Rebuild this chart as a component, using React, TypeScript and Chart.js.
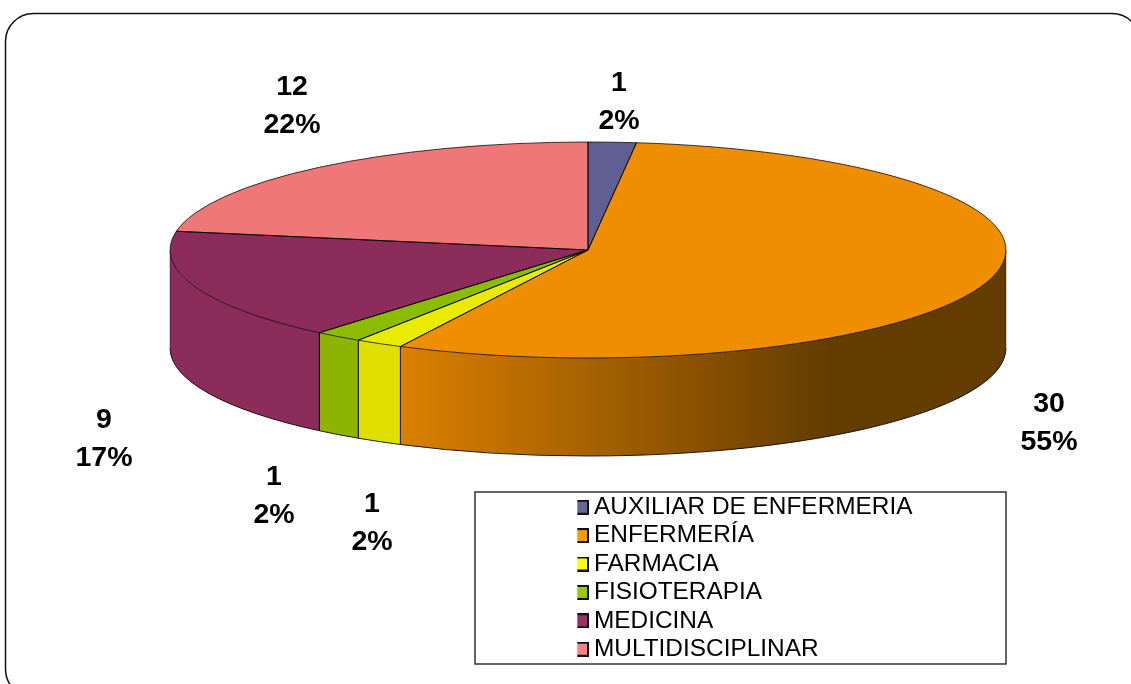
import React, { useEffect, useRef } from "react";
import { Chart, registerables } from "chart.js";

Chart.register(...registerables);

const categories = ["AUXILIAR DE ENFERMERIA", "ENFERMERÍA", "FARMACIA", "FISIOTERAPIA", "MEDICINA", "MULTIDISCIPLINAR"];
const counts = [1, 30, 1, 1, 9, 12];
const percentLabels = ["2%", "55%", "2%", "2%", "17%", "22%"];

const topColors = ["#5F5F96", "#EE8E00", "#EBEB00", "#8CBC00", "#8B2C5B", "#F07777"];
const wallColors = ["#5F5F96", "#DB8000", "#E0E000", "#8CB400", "#8B2C5B", "#F07777"];
const legendColors = ["#666699", "#FF9900", "#FFFF00", "#99CC00", "#993366", "#FF8080"];

const ELLIPSE = { cx: 588, cy: 250, rx: 418, ry: 108, depth: 98 };
const LABEL_ANCHORS = [
  [619, 83],
  [1049, 404],
  [372, 504],
  [274, 477],
  [104, 420],
  [292, 87],
];
const LABEL_LINE_GAP = 38;
const LEGEND_BOX = { left: 475, top: 492, right: 1006, bottom: 664 };
const LEGEND_X = 581.3;
const LEGEND_Y = 493;

function markerCanvas(color: string) {
  const c = document.createElement("canvas");
  c.width = 15;
  c.height = 15;
  const x = c.getContext("2d")!;
  x.fillStyle = color;
  x.fillRect(1, 1, 13, 13);
  x.strokeStyle = "#111";
  x.lineWidth = 2;
  x.strokeRect(1, 1, 13, 13);
  return c;
}

const pie3d = {
  id: "pie3d",
  beforeDraw(chart: any) {
    const { ctx } = chart;
    ctx.save();
    ctx.strokeStyle = "#111";
    ctx.lineWidth = 1.5;
    ctx.beginPath();
    ctx.roundRect(5.5, 13.5, 1134.5, 683.5, 28);
    ctx.stroke();
    ctx.strokeStyle = "#333";
    ctx.lineWidth = 1.5;
    ctx.strokeRect(LEGEND_BOX.left, LEGEND_BOX.top, LEGEND_BOX.right - LEGEND_BOX.left, LEGEND_BOX.bottom - LEGEND_BOX.top);
    ctx.restore();
  },
  afterLayout(chart: any) {
    const l = chart.legend;
    const width = LEGEND_BOX.right - LEGEND_X;
    l.left = LEGEND_X - l.options.labels.padding;
    l.right = l.left + width;
    l.top = LEGEND_Y - l.options.labels.padding + 2;
    l.bottom = 2000;
    l.width = width;
    l.height = l.bottom - l.top;
  },
  beforeDatasetsDraw(chart: any) {
    const { ctx } = chart;
    const arcs = chart.getDatasetMeta(0).data;
    const { cx, cy, rx, ry, depth } = ELLIPSE;
    const px = (a: number) => cx + rx * Math.cos(a);
    const py = (a: number) => cy + ry * Math.sin(a);

    ctx.save();
    arcs.forEach((arc: any, i: number) => {
      const a0 = Math.max(arc.startAngle, 0);
      const a1 = Math.min(arc.endAngle, Math.PI);
      if (a1 <= a0) return;
      let fill: any = wallColors[i];
      if (i === 1) {
        const g = ctx.createLinearGradient(400, 0, 830, 0);
        g.addColorStop(0, "#DB8000");
        g.addColorStop(1, "#643C00");
        fill = g;
      }
      ctx.beginPath();
      ctx.ellipse(cx, cy, rx, ry, 0, a0, a1);
      ctx.lineTo(px(a1), py(a1) + depth);
      ctx.ellipse(cx, cy + depth, rx, ry, 0, a1, a0, true);
      ctx.closePath();
      ctx.fillStyle = fill;
      ctx.fill();

      ctx.strokeStyle = "rgba(0,0,0,0.85)";
      ctx.lineWidth = 1;
      ctx.beginPath();
      ctx.ellipse(cx, cy + depth, rx, ry, 0, a0, a1);
      ctx.stroke();
      [arc.startAngle, arc.endAngle].forEach((a: number) => {
        if (a > 0.001 && a < Math.PI - 0.001) {
          ctx.beginPath();
          ctx.moveTo(px(a), py(a));
          ctx.lineTo(px(a), py(a) + depth);
          ctx.stroke();
        }
      });
    });
    ctx.strokeStyle = "rgba(0,0,0,0.35)";
    ctx.lineWidth = 1;
    [cx - rx, cx + rx].forEach((x) => {
      ctx.beginPath();
      ctx.moveTo(x, cy);
      ctx.lineTo(x, cy + depth);
      ctx.stroke();
    });
    ctx.restore();

    const first = arcs[0];
    ctx.save();
    ctx.translate(cx, cy);
    ctx.scale(rx / first.outerRadius, ry / first.outerRadius);
    ctx.translate(-first.x, -first.y);
  },
  afterDatasetsDraw(chart: any) {
    const { ctx } = chart;
    ctx.restore();
    const arcs = chart.getDatasetMeta(0).data;
    const { cx, cy, rx, ry } = ELLIPSE;

    ctx.save();
    ctx.strokeStyle = "rgba(0,0,0,0.75)";
    ctx.lineWidth = 1;
    ctx.lineJoin = "round";
    arcs.forEach((arc: any) => {
      ctx.beginPath();
      ctx.moveTo(cx, cy);
      ctx.ellipse(cx, cy, rx, ry, 0, arc.startAngle, arc.endAngle);
      ctx.closePath();
      ctx.stroke();
    });

    ctx.fillStyle = "#000";
    ctx.font = "bold 28.5px 'Liberation Sans'";
    ctx.textAlign = "center";
    ctx.textBaseline = "middle";
    counts.forEach((v, i) => {
      const [x, y] = LABEL_ANCHORS[i];
      ctx.fillText(String(v), x, y);
      ctx.fillText(percentLabels[i], x, y + LABEL_LINE_GAP);
    });
    ctx.restore();
  },
};

export default function App() {
  const ref = useRef<HTMLCanvasElement>(null);
  useEffect(() => {
    const chart = new Chart(ref.current!, {
      type: "pie",
      data: {
        labels: categories,
        datasets: [
          {
            data: counts,
            backgroundColor: topColors,
            borderWidth: 0,
            clip: false,
          } as any,
        ],
      },
      options: {
        responsive: false,
        animation: false,
        layout: { padding: 0 },
        plugins: {
          tooltip: { enabled: false },
          title: { display: false },
          legend: {
            display: true,
            position: "chartArea" as any,
            align: "start",
            labels: {
              usePointStyle: true,
              pointStyleWidth: 0.5,
              boxHeight: 14,
              padding: 4,
              color: "#1c1c1c",
              font: { family: "'Liberation Sans'", size: 24.4 },
              generateLabels: () =>
                categories.map((text, i) => ({
                  text,
                  pointStyle: markerCanvas(legendColors[i]),
                  fillStyle: legendColors[i],
                  strokeStyle: "#111",
                  lineWidth: 2,
                  hidden: false,
                  index: i,
                  datasetIndex: 0,
                })) as any,
            },
          },
        },
      },
      plugins: [pie3d],
    });
    return () => chart.destroy();
  }, []);
  return (
    <canvas
      ref={ref}
      width={1131}
      height={684}
      style={{ position: "fixed", left: 0, top: 0, display: "block", filter: "blur(0.4px)" }}
    />
  );
}
